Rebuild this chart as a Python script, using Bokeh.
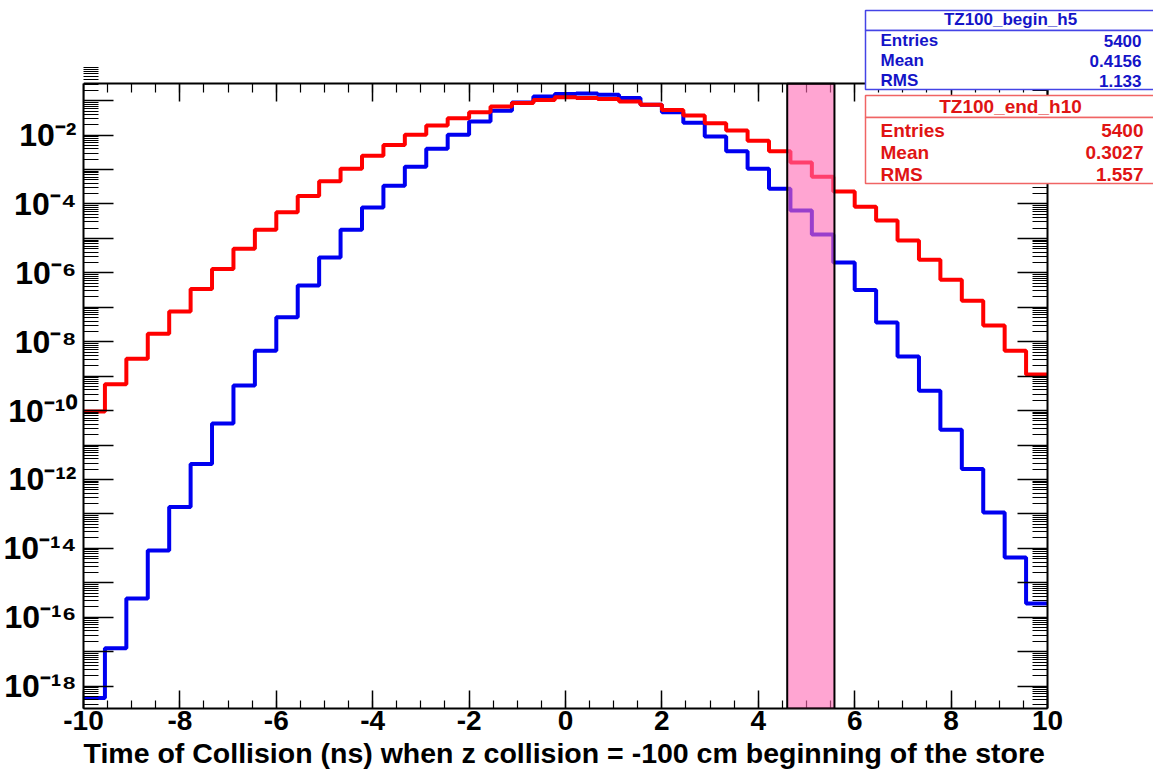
import math
from bokeh.plotting import figure
from bokeh.models import (Range1d, FixedTicker, LinearAxis, LogAxis, BoxAnnotation,
                          Label, Title, CustomJSTickFormatter)
from bokeh.embed import file_html
from bokeh.resources import INLINE

# ---------------- data ----------------
x_start, x_end = -10.0, 10.0
y_lo, y_hi = 10 ** -18.65, 10 ** -0.51
n_bins = 45

# TZ100_begin_h5 (blue)
begin_h5 = [4.5e-19, 1.26e-17, 3.5e-16, 8.7e-15, 1.6e-13, 2.8e-12, 4.2e-11, 5.4e-10, 5.5e-9,
            5.1e-8, 4.3e-7, 2.8e-6, 1.8e-5, 7.9e-5, 3.4e-4, 1.2e-3, 4.0e-3, 1.02e-2,
            2.5e-2, 5.1e-2, 8.9e-2, 0.132, 0.155, 0.162, 0.148, 0.120, 0.076, 0.046,
            0.023, 9.1e-3, 3.4e-3, 1.05e-3, 2.75e-4, 6.5e-5, 1.3e-5, 2.0e-6, 3.2e-7,
            3.6e-8, 3.7e-9, 3.8e-10, 2.8e-11, 2.0e-12, 1.1e-13, 5.4e-15, 2.5e-16]

# TZ100_end_h10 (red)
end_h10 = [9.5e-11, 5.8e-10, 3.2e-9, 1.7e-8, 7.6e-8, 3.4e-7, 1.3e-6, 5.0e-6, 1.8e-5,
           5.8e-5, 1.7e-4, 4.6e-4, 1.05e-3, 2.5e-3, 5.2e-3, 1.02e-2, 1.9e-2, 3.1e-2,
           4.6e-2, 6.8e-2, 8.5e-2, 0.105, 0.126, 0.120, 0.112, 0.095, 0.076, 0.054,
           0.037, 0.022, 0.0135, 6.9e-3, 3.4e-3, 1.6e-3, 6.2e-4, 2.3e-4, 8.3e-5,
           3.3e-5, 8.7e-6, 2.4e-6, 6.3e-7, 1.55e-7, 2.95e-8, 5.5e-9, 1.12e-9]

band_t = [4.6, 5.58]

x_tick_values = [-10, -8, -6, -4, -2, 0, 2, 4, 6, 8, 10]
x_tick_labels = ["-10", "-8", "-6", "-4", "-2", "0", "2", "4", "6", "8", "10"]
x_minor_values = [x_start + 0.5 * i for i in range(41)]

y_tick_exponents = list(range(-18, 0))
y_tick_labels = ["10⁻¹⁸", "", "10⁻¹⁶", "", "10⁻¹⁴", "", "10⁻¹²", "", "10⁻¹⁰", "",
                 "10⁻⁸", "", "10⁻⁶", "", "10⁻⁴", "", "10⁻²", ""]

stat_names = ["Entries", "Mean", "RMS"]
begin_name = "TZ100_begin_h5"
begin_stats = ["5400", "0.4156", "1.133"]
end_name = "TZ100_end_h10"
end_stats = ["5400", "0.3027", "1.557"]

x_title = "Time of Collision (ns) when z collision = -100 cm beginning of the store"

# ---------------- geometry ----------------
W, H = 1153, 771
FL, FB = 80, 63                 # left / bottom margins of the frame
AX_R, AX_T = 1046.7, 83.3       # canvas position of the right and top axes
# the frame reaches the canvas top/right so the stat boxes are not clipped;
# the visible box of axes is drawn with fixed-location axes
px_per_x = (AX_R - FL) / (x_end - x_start)
px_per_dec = ((H - FB) - AX_T) / (math.log10(y_hi) - math.log10(y_lo))
x_view_end = x_end + (W - AX_R) / px_per_x
y_view_top = 10 ** (math.log10(y_hi) + AX_T / px_per_dec)

p = figure(width=W, height=H, x_range=Range1d(x_start, x_view_end),
           y_range=Range1d(y_lo, y_view_top), y_axis_type="log",
           output_backend="svg", toolbar_location=None,
           min_border_left=FL, min_border_right=0, min_border_top=0, min_border_bottom=FB)
p.grid.visible = False
p.outline_line_color = None
p.background_fill_color = "white"
p.border_fill_color = "white"

FONT = "Liberation Sans"
blank = CustomJSTickFormatter(code="return ''")

# y ticks
y_major = [10.0 ** e for e in y_tick_exponents]
y_minor = [m * 10.0 ** e for e in range(-19, 0) for m in range(2, 10)]
y_ticker = FixedTicker(ticks=y_major, minor_ticks=y_minor)

tick_style = dict(axis_line_width=2, axis_line_color="black",
                  major_tick_line_width=1.5, minor_tick_line_width=1.2,
                  major_tick_out=0, minor_tick_out=0)

yax = p.yaxis[0]
yax.update(ticker=y_ticker, bounds=(y_lo, y_hi), major_tick_in=30, minor_tick_in=15,
           **tick_style)
yax.major_label_overrides = dict(zip(y_major, y_tick_labels))
yax.major_label_text_font = FONT
yax.major_label_text_font_style = "bold"
yax.major_label_text_font_size = "32px"
yax.major_label_text_color = "black"
yax.major_label_standoff = 7

ryax = LogAxis(ticker=y_ticker, formatter=blank, fixed_location=x_end, bounds=(y_lo, y_hi),
               major_tick_in=30, minor_tick_in=15, major_label_standoff=0, **tick_style)
p.add_layout(ryax, "right")

# x ticks
x_ticker = FixedTicker(ticks=x_tick_values, minor_ticks=x_minor_values)
xax = p.xaxis[0]
xax.update(ticker=x_ticker, bounds=(x_start, x_end), major_tick_in=18, minor_tick_in=8,
           **tick_style)
xax.major_label_overrides = dict(zip(x_tick_values, x_tick_labels))
xax.major_label_text_font = FONT
xax.major_label_text_font_style = "bold"
xax.major_label_text_font_size = "28px"
xax.major_label_text_color = "black"
xax.major_label_standoff = 2

txax = LinearAxis(ticker=x_ticker, formatter=blank, fixed_location=y_hi,
                  bounds=(x_start, x_end), major_tick_in=18, minor_tick_in=9,
                  major_label_standoff=0, **tick_style)
p.add_layout(txax, "above")

# x axis title, left-aligned with the axis start (the frame extends past x = 10)
p.add_layout(Title(text=x_title, align="left", text_font=FONT, text_font_style="bold",
                   text_font_size="28.5px", text_color="black", standoff=4), "below")

# ---------------- histograms ----------------
edges = [x_start + i * (x_end - x_start) / n_bins for i in range(n_bins + 1)]
p.step(edges, begin_h5 + [begin_h5[-1]], mode="after", line_color="#0000F0", line_width=4)
p.step(edges, end_h10 + [end_h10[-1]], mode="after", line_color="#FF0000", line_width=4)

# highlighted band
p.add_layout(BoxAnnotation(left=band_t[0], right=band_t[1], top=y_hi, bottom=y_lo,
                           fill_color="#FF69B4", fill_alpha=0.6,
                           line_color="black", line_alpha=1.0, line_width=2,
                           level="annotation"))

# ---------------- stat boxes (canvas pixels -> frame screen units) ----------------
def sx(cx):
    return cx - FL

def sy(cy):
    return (H - FB) - cy

def sbox(l, r, t, b, color):
    p.add_layout(BoxAnnotation(left=sx(l), right=sx(r), top=sy(t), bottom=sy(b),
                               left_units="screen", right_units="screen",
                               top_units="screen", bottom_units="screen",
                               fill_color="white", fill_alpha=1.0,
                               line_color=color, line_alpha=1.0, line_width=1.5,
                               level="overlay"))

def stext(x, y, text, color, size, align):
    p.add_layout(Label(x=sx(x), y=sy(y), x_units="screen", y_units="screen", text=text,
                       text_font=FONT, text_font_style="bold", text_font_size=size,
                       text_color=color, text_align=align, text_baseline="middle",
                       level="overlay"))

BL, BR = 862, 1152
# blue box
sbox(BL, BR, 10, 30, "#4444E6")
sbox(BL, BR, 30, 89, "#4444E6")
stext((BL + BR) / 2, 19, begin_name, "#1414C8", "17px", "center")
for i, (n, v) in enumerate(zip(stat_names, begin_stats)):
    stext(877, 40 + 20 * i, n, "#1414C8", "17px", "left")
    stext(1138, 40 + 20 * i, v, "#1414C8", "17px", "right")

# red box
sbox(BL, BR, 95, 117, "#F06464")
sbox(BL, BR, 117, 183, "#F06464")
stext((BL + BR) / 2, 106, end_name, "#E01414", "19px", "center")
for i, (n, v) in enumerate(zip(stat_names, end_stats)):
    stext(877, 130 + 22 * i, n, "#E01414", "19px", "left")
    stext(1140, 130 + 22 * i, v, "#E01414", "19px", "right")

open("out.html", "w").write(file_html(p, INLINE))
